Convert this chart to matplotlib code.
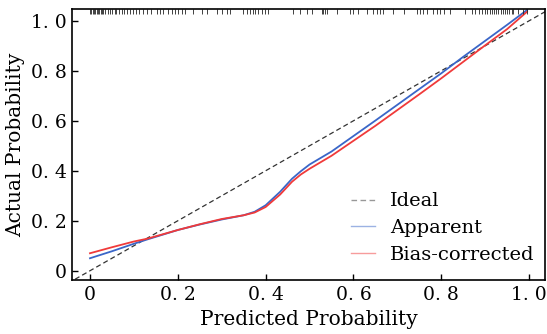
import matplotlib
matplotlib.use("Agg")
import matplotlib.pyplot as plt
import numpy as np

plt.rcParams["font.family"] = ["DejaVu Serif"]

# calibration curves
pred = [0.0, 0.05, 0.10, 0.13, 0.20, 0.25, 0.30, 0.35, 0.375, 0.40, 0.433,
        0.46, 0.48, 0.50, 0.55, 0.60, 0.65, 0.70, 0.75, 0.80, 0.85, 0.90,
        0.95, 0.995]
apparent = [0.050, 0.078, 0.108, 0.125, 0.163, 0.185, 0.205, 0.222, 0.236,
            0.262, 0.316, 0.368, 0.398, 0.425, 0.477, 0.539, 0.601, 0.664,
            0.727, 0.790, 0.856, 0.920, 0.984, 1.043]
corrected = [0.070, 0.094, 0.117, 0.128, 0.163, 0.186, 0.207, 0.222, 0.233,
             0.255, 0.305, 0.356, 0.385, 0.408, 0.460, 0.520, 0.580, 0.643,
             0.706, 0.770, 0.836, 0.902, 0.967, 1.036]

# rug of predicted probabilities along the top
rug = [0.0, 0.003, 0.006, 0.009, 0.012, 0.015, 0.018, 0.021, 0.024, 0.027,
       0.030, 0.035, 0.040, 0.045, 0.050, 0.056, 0.060, 0.066, 0.072, 0.078,
       0.085, 0.090, 0.098, 0.105, 0.112, 0.120, 0.130, 0.140, 0.152, 0.159,
       0.167, 0.178, 0.186, 0.194, 0.200, 0.210, 0.216, 0.235, 0.254, 0.266,
       0.289, 0.300, 0.311, 0.319, 0.349, 0.357, 0.364, 0.372, 0.376, 0.383,
       0.391, 0.399, 0.406, 0.463, 0.478, 0.494, 0.505, 0.528, 0.531, 0.535,
       0.539, 0.562, 0.592, 0.600, 0.611, 0.630, 0.645, 0.653, 0.660, 0.668,
       0.691, 0.714, 0.744, 0.752, 0.759, 0.767, 0.782, 0.790, 0.797, 0.805,
       0.820, 0.854, 0.869, 0.877, 0.885, 0.892, 0.900, 0.904, 0.910, 0.915,
       0.920, 0.925, 0.930, 0.935, 0.940, 0.945, 0.950, 0.955, 0.960, 0.964,
       0.975, 0.985, 0.995]

ticks = [0, 0.2, 0.4, 0.6, 0.8, 1.0]
tick_labels = ["0", "0. 2", "0. 4", "0. 6", "0. 8", "1. 0"]

fig = plt.figure(figsize=(5.47, 3.34), dpi=100)
ax = fig.add_axes([0.1316, 0.1617, 0.8647, 0.8113])
ax.set_xlim(-0.041, 1.036)
ax.set_ylim(-0.037, 1.047)

ax.plot([-0.05, 1.1], [-0.05, 1.1], "--", color="#333333", lw=0.9,
        dashes=(4, 2.5), label="Ideal")
ax.plot(pred, apparent, color="#3a66c8", lw=1.3, label="Apparent")
ax.plot(pred, corrected, color="#f03a3a", lw=1.3, label="Bias-corrected")
ax.vlines(rug, 0.982, 1.0, transform=ax.get_xaxis_transform(),
          color="#222222", lw=0.6)

ax.set_xticks(ticks)
ax.set_xticklabels(tick_labels)
ax.set_yticks(ticks)
ax.set_yticklabels(tick_labels)
ax.tick_params(direction="in", length=4, width=1, labelsize=13.5, pad=4)
for s in ax.spines.values():
    s.set_linewidth(1.2)
ax.set_xlabel("Predicted Probability", fontsize=14.5, labelpad=5)
ax.set_ylabel("Actual Probability", fontsize=14.5, labelpad=4)

leg = ax.legend(loc="lower right", bbox_to_anchor=(1.015, -0.005), frameon=False,
                fontsize=14, handlelength=1.2, handletextpad=0.8,
                labelspacing=0.45)
for h in leg.get_lines():
    h.set_alpha(0.5)
    h.set_linewidth(1.0)

fig.savefig("out.png", dpi=100)
